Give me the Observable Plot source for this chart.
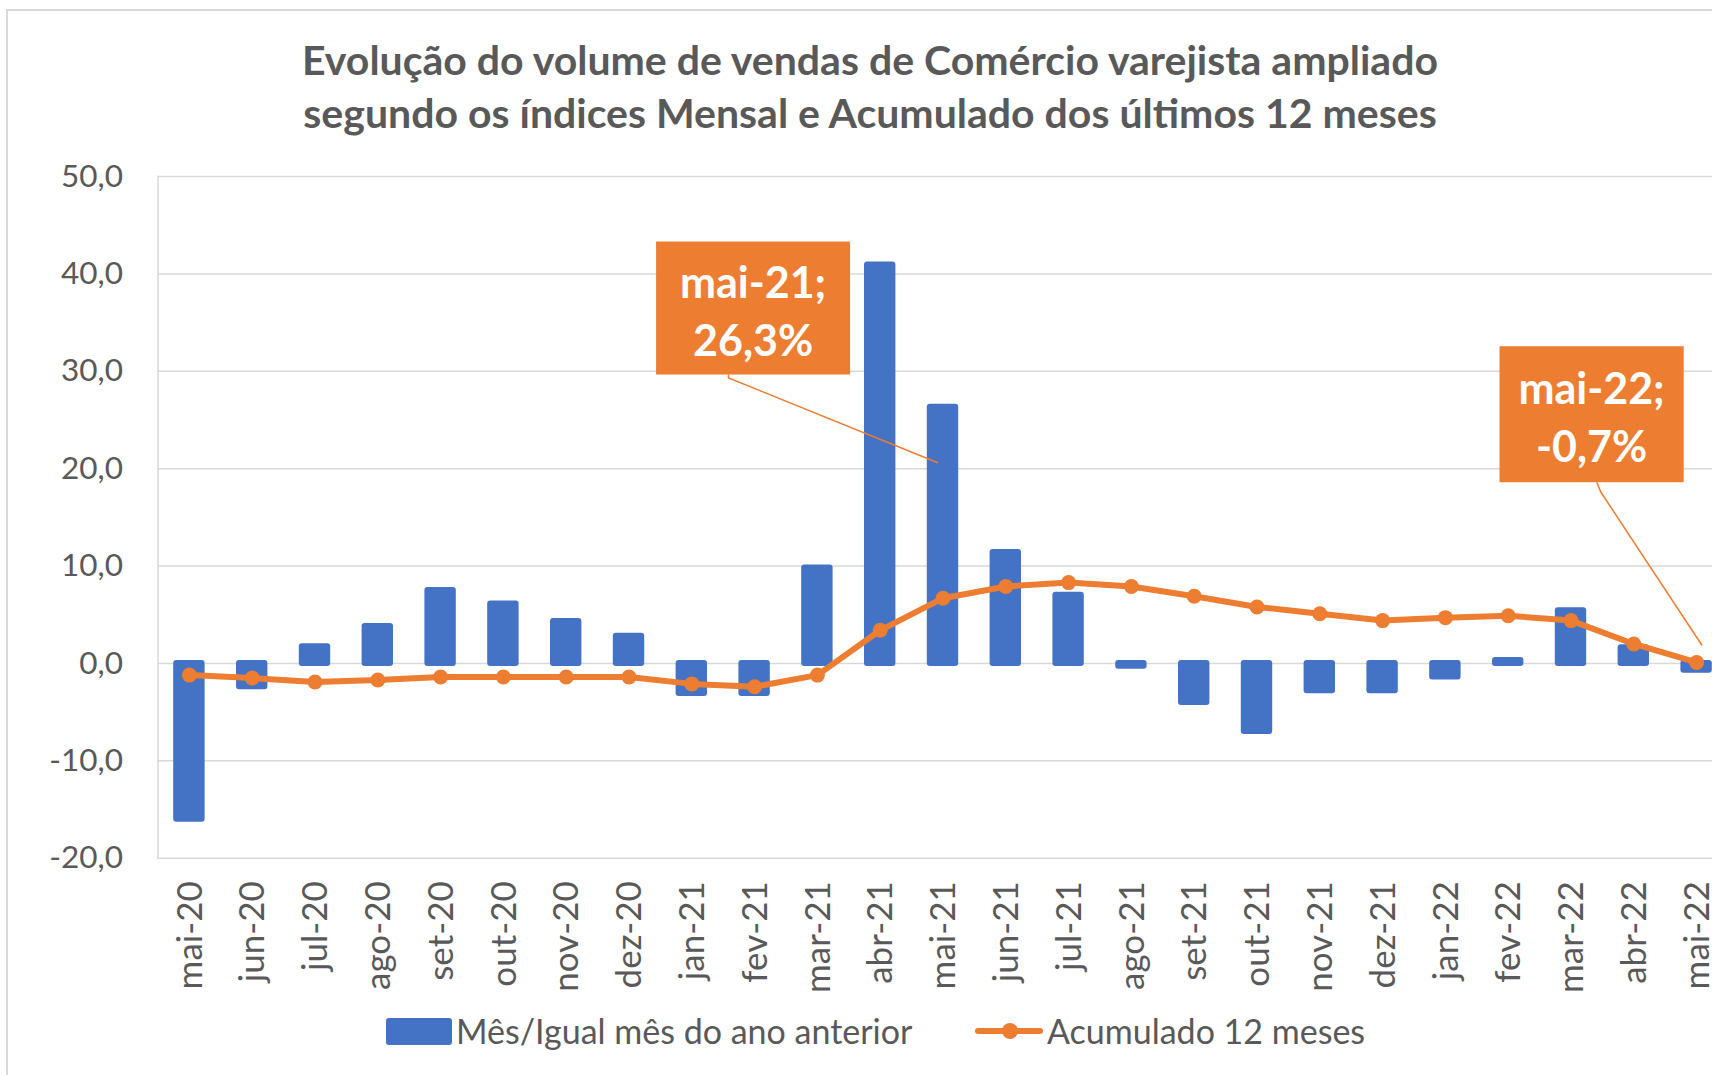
<!DOCTYPE html>
<html>
<head>
<meta charset="utf-8">
<script src="https://cdn.jsdelivr.net/npm/d3@7"></script>
<script src="https://cdn.jsdelivr.net/npm/@observablehq/plot@0.6"></script>
<style>
  html, body { margin: 0; padding: 0; background: #fff; overflow: hidden; }
  #wrap { position: relative; width: 1712px; height: 1075px; overflow: hidden; font-family: Lato, "Open Sans", sans-serif; color: #595959; }
  #border { position: absolute; left: 6px; top: 9px; width: 2000px; height: 2000px; border-left: 2px solid #d9d9d9; border-top: 2px solid #d9d9d9; }
  #chart { position: absolute; left: 0; top: 0; }
  #title { position: absolute; left: 0; top: 33px; width: 1740px; text-align: center; font-weight: bold; font-size: 41px; line-height: 53px; color: #595959; }
  .lt { position: absolute; top: 1011px; height: 40px; line-height: 40px; font-size: 34px; color: #595959; white-space: nowrap; }
  #sw { position: absolute; left: 386px; top: 1018px; width: 66px; height: 27px; background: #4472C4; border-radius: 3px; }
  #lineSw { position: absolute; left: 970px; top: 1016px; }
</style>
</head>
<body>
<div id="wrap">
  <div id="border"></div>
  <div id="chart"></div>
  <div id="title"></div>
  <div id="sw"></div>
  <svg id="lineSw" width="80" height="30"><line x1="8" y1="15" x2="70" y2="15" stroke="#ED7D31" stroke-width="6" stroke-linecap="round"/><circle cx="40" cy="15" r="8" fill="#ED7D31"/></svg>
  <span class="lt" id="lt1" style="left:456px"></span>
  <span class="lt" id="lt2" style="left:1047px"></span>
</div>
<script>
// ---- data ----
const titleLines = [
  "Evolução do volume de vendas de Comércio varejista ampliado",
  "segundo os índices Mensal e Acumulado dos últimos 12 meses"
];
const months = ["mai-20","jun-20","jul-20","ago-20","set-20","out-20","nov-20","dez-20",
  "jan-21","fev-21","mar-21","abr-21","mai-21","jun-21","jul-21","ago-21","set-21","out-21",
  "nov-21","dez-21","jan-22","fev-22","mar-22","abr-22","mai-22"];
const mensal = [-16.0, -2.4, 1.7, 3.8, 7.5, 6.1, 4.3, 2.8, -3.1, -3.1, 9.8, 40.9, 26.3,
  11.4, 7.0, -0.3, -4.0, -7.0, -2.8, -2.8, -1.4, 0.3, 5.4, 1.6, -0.7];
const acumulado = [-1.2, -1.5, -1.9, -1.7, -1.4, -1.4, -1.4, -1.4, -2.1, -2.4, -1.2, 3.4, 6.7,
  7.9, 8.3, 7.9, 6.9, 5.8, 5.1, 4.4, 4.7, 4.9, 4.4, 2.0, 0.1];
const yTicks = [-20, -10, 0, 10, 20, 30, 40, 50];
const legendLabels = ["Mês/Igual mês do ano anterior", "Acumulado 12 meses"];
const calloutMonths = ["mai-21", "mai-22"];
const calloutTexts = [["mai-21;", "26,3%"], ["mai-22;", "-0,7%"]];

// ---- build ----
document.getElementById("title").innerHTML = titleLines.join("<br>");
document.getElementById("lt1").textContent = legendLabels[0];
document.getElementById("lt2").textContent = legendLabels[1];

const data = months.map((m, i) => ({m, v: mensal[i], a: acumulado[i]}));
const fmt = v => v.toFixed(1).replace(".", ",");

// callout geometry (pixel offsets relative to band centre / zero line)
const calloutGeom = [
  {box: [-286.4, -421.4, 194, 133], leader: [[-214, -285], [-4.6, -200.2]], tx: -189.4, ty: [-381, -323]},
  {box: [-196.6, -316.7, 184.2, 136], leader: [[-99, -179.7], [-95, -170.4], [6, -17.4]], tx: -104.5, ty: [-275.7, -217.4]}
];

function calloutMark(index, scales) {
  const x = scales.x, y = scales.y;
  const bw = x.bandwidth ? x.bandwidth() : 0;
  const y0 = y(0);
  const g = d3.create("svg:g");
  calloutMonths.forEach((m, i) => {
    const cx = x(m) + bw / 2;
    const G = calloutGeom[i];
    const pts = [[cx + G.leader[0][0], y0 + G.box[1] + G.box[3]]].concat(G.leader.map(p => [cx + p[0], y0 + p[1]]));
    g.append("path")
      .attr("d", d3.line()(pts))
      .attr("fill", "none").attr("stroke", "#ED7D31").attr("stroke-width", 1.5);
    g.append("rect")
      .attr("x", cx + G.box[0]).attr("y", y0 + G.box[1])
      .attr("width", G.box[2]).attr("height", G.box[3])
      .attr("fill", "#ED7D31");
    calloutTexts[i].forEach((t, k) => {
      g.append("text")
        .attr("x", cx + G.tx).attr("y", y0 + G.ty[k])
        .attr("text-anchor", "middle").attr("dominant-baseline", "central")
        .attr("fill", "#ffffff").attr("font-weight", "bold").attr("font-size", 43)
        .attr("font-family", "Lato, sans-serif")
        .text(t);
    });
  });
  return g.node();
}

const plot = Plot.plot({
  width: 1712,
  height: 1075,
  marginLeft: 157.5,
  marginRight: -15.5,
  marginTop: 176,
  marginBottom: 217.3,
  style: {fontFamily: "Lato, sans-serif", color: "#595959", background: "transparent"},
  x: {domain: months, paddingInner: 0.5, paddingOuter: 0.25, round: false, label: null},
  y: {domain: [-20, 50], label: null},
  marks: [
    Plot.ruleY(yTicks, {stroke: "#d9d9d9", strokeWidth: 1.5}),
    Plot.frame({anchor: "left", stroke: "#d9d9d9", strokeWidth: 1.5}),
    Plot.barY(data, {x: "m", y: "v", fill: "#4472C4", rx: 3, insetTop: -3, insetBottom: -3}),
    Plot.line(data, {x: "m", y: "a", stroke: "#ED7D31", strokeWidth: 6, strokeLinejoin: "round", strokeLinecap: "round"}),
    Plot.dot(data, {x: "m", y: "a", r: 7.5, fill: "#ED7D31"}),
    Plot.axisY({ticks: yTicks, tickSize: 0, tickPadding: 35, tickFormat: fmt, fontSize: 31.5, fill: "#595959"}),
    Plot.axisX({tickSize: 0, tickPadding: 23, tickRotate: -90, fontSize: 35, dx: 1, fill: "#595959"}),
    calloutMark
  ]
});
document.getElementById("chart").appendChild(plot);
</script>
</body>
</html>
